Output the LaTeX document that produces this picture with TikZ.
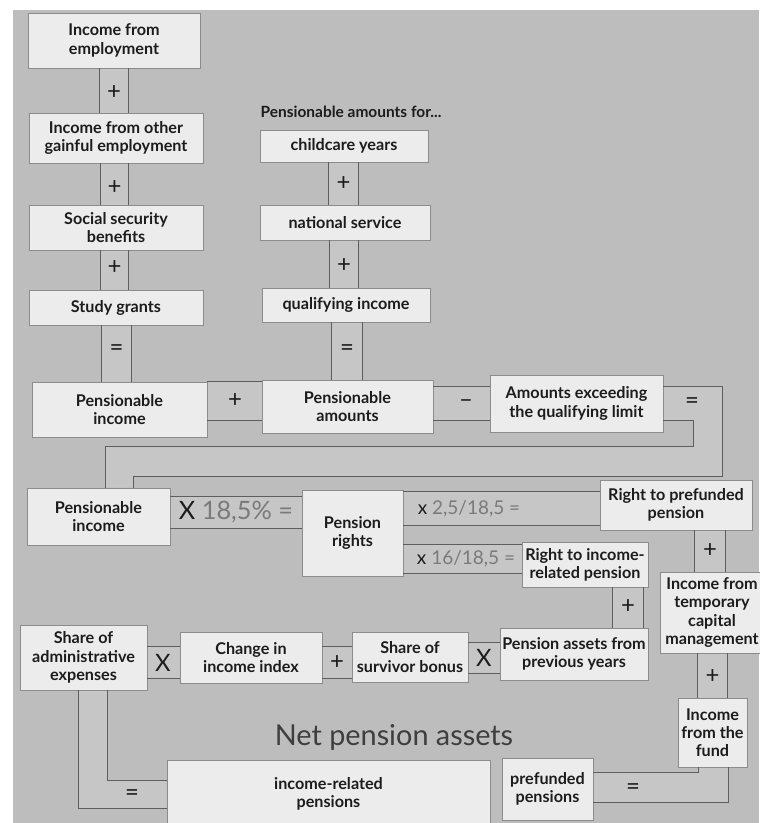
\documentclass[tikz,border=0pt]{standalone}
\usepackage{fontspec}
\setmainfont{Lato}
\usetikzlibrary{calc, backgrounds}
\definecolor{PaperGrey}{HTML}{BDBDBD}
\definecolor{BoxFill}  {HTML}{ECECEC}
\definecolor{BoxLine}  {HTML}{8C8C8C}
\definecolor{BandFill} {HTML}{C6C6C6}
\definecolor{LineGrey} {HTML}{5E5E5E}
\definecolor{InkDark}  {HTML}{1C1C1C}
\definecolor{InkGrey}  {HTML}{7A7A7A}

% band between two stacked boxes, width taken from the operator node
\newcommand{\vband}[3]{%
  \begin{scope}[on background layer]
    \fill[BandFill] (#1.south -| #3.west) rectangle (#2.north -| #3.east);
  \end{scope}
  \draw[bandline] (#1.south -| #3.west) -- (#2.north -| #3.west)
                  (#1.south -| #3.east) -- (#2.north -| #3.east);
}
% band between two boxes side by side, height taken from the operator node
\newcommand{\hband}[3]{%
  \begin{scope}[on background layer]
    \fill[BandFill] (#1.east |- #3.north) rectangle (#2.west |- #3.south);
  \end{scope}
  \draw[bandline] (#1.east |- #3.north) -- (#2.west |- #3.north)
                  (#1.east |- #3.south) -- (#2.west |- #3.south);
}

\begin{document}
\begin{tikzpicture}[
  x=0.025cm, y=-0.025cm,
  box/.style={draw=BoxLine, fill=BoxFill, line width=0.5pt, align=center, inner sep=1pt,
              text=InkDark, font=\fontsize{11.5}{13}\selectfont\bfseries},
  boxsize/.style 2 args={minimum width=#1*0.025cm, minimum height=#2*0.025cm},
  opsym/.style={inner sep=0pt, text=InkDark, font=\fontsize{17}{17}\selectfont},
  factor/.style={inner sep=0pt, text=InkGrey, font=\fontsize{13.5}{14}\selectfont},
  bandline/.style={draw=LineGrey, line width=0.6pt}
]
  \useasboundingbox (0,0) rectangle (759,823);
  \begin{scope}[on background layer]
    \fill[PaperGrey] (13,10) rectangle (759,823);
  \end{scope}

  % first column: the sources of income
  \node[box, boxsize={172}{55}] (emp)  at (114,40.5)  {Income from\\employment};
  \node[box, boxsize={174}{50}] (oth)  at (116,138)   {Income from other\\gainful employment};
  \node[box, boxsize={174}{45}] (ssec) at (116,227.5) {Social security\\benefits};
  \node[box, boxsize={174}{35}] (sg)   at (116,307.5) {Study grants};

  % second column: pensionable amounts
  \node[font=\fontsize{11}{12}\selectfont\bfseries, text=InkDark] (forlbl) at (351,112)
      {Pensionable amounts for...};
  \node[box, boxsize={168}{32}] (cc) at (344,146)   {childcare years};
  \node[box, boxsize={170}{35}] (ns) at (345,222.5) {national service};
  \node[box, boxsize={168}{34}] (qi) at (346,305)   {qualifying income};

  % first sum
  \node[box, boxsize={175}{55}] (pi1) at (119.5,409.5) {Pensionable\\income};
  \node[box, boxsize={171}{53}] (pam) at (347.5,406.5) {Pensionable\\amounts};
  \node[box, boxsize={173}{57}] (amt) at (576.5,403.5) {Amounts exceeding\\the qualifying limit};

  % pension rights and their split
  \node[box, boxsize={143}{57}]  (pi2)  at (98.5,516.5) {Pensionable\\income};
  \node[box, boxsize={101}{86}]  (pr)   at (352.5,533)  {Pension\\rights};
  \node[box, boxsize={152}{50}]  (rp)   at (676,505)    {Right to prefunded\\pension};
  \node[box, boxsize={126}{45}]  (rip)  at (585,564.5)  {Right to income-\\related pension};
  \node[box, boxsize={104}{81}]  (temp) at (712,612.5)  {Income from\\temporary\\capital\\management};

  % third row
  \node[box, boxsize={127}{65}] (adm)  at (83.5,657.5) {Share of\\administrative\\expenses};
  \node[box, boxsize={142}{51}] (cii)  at (251,657.5)  {Change in\\income index};
  \node[box, boxsize={116}{50}] (ssb)  at (410,657)    {Share of\\survivor bonus};
  \node[box, boxsize={148}{52}] (pa)   at (574,654)    {Pension assets from\\previous years};
  \node[box, boxsize={69}{69}]  (fund) at (712.5,732.5) {Income\\from the\\fund};

  % the result
  \node[font=\fontsize{20.5}{21}\selectfont, text=InkDark!85] (net) at (394,737) {Net pension assets};
  \node[box, boxsize={323}{68}] (inc) at (328.5,794) {income-related\\pensions};
  \node[box, boxsize={91}{62}]  (pre) at (547.5,789) {prefunded\\pensions};

  % operators in the stacked columns
  \node[opsym, boxsize={28}{0}] (p1) at (114,93)    {+};
  \node[opsym, boxsize={27}{0}] (p2) at (114.5,188) {+};
  \node[opsym, boxsize={27}{0}] (p3) at (114.5,268) {+};
  \node[opsym, boxsize={29}{0}] (e1) at (116.5,350) {=};
  \node[opsym, boxsize={29}{0}] (p4) at (343.5,184) {+};
  \node[opsym, boxsize={28}{0}] (p5) at (344,266)   {+};
  \node[opsym, boxsize={30}{0}] (e2) at (347,350)   {=};
  \vband{emp}{oth}{p1}
  \vband{oth}{ssec}{p2}
  \vband{ssec}{sg}{p3}
  \vband{sg}{pi1}{e1}
  \vband{cc}{ns}{p4}
  \vband{ns}{qi}{p5}
  \vband{qi}{pam}{e2}

  % operators in the first sum
  \node[opsym, boxsize={0}{38}] (p6) at (235,401)   {+};
  \node[opsym, boxsize={0}{33}] (m1) at (466,403.5) {\textendash};
  \node[opsym, boxsize={0}{33}] (e3) at (692,403.5) {=};
  \hband{pi1}{pam}{p6}
  \hband{pam}{amt}{m1}

  % result of the first sum carried down to the second row
  \coordinate (uin)  at (693,446);
  \coordinate (uout) at (722,476);
  \coordinate (lin)  at (105,446);
  \coordinate (lout) at (133,476);
  \begin{scope}[on background layer]
    \fill[BandFill] (amt.east |- e3.north) -- (uout |- e3.north) -- (uout) -- (lout)
      -- (lout |- pi2.north) -- (lin |- pi2.north) -- (lin) -- (uin)
      -- (uin |- e3.south) -- (amt.east |- e3.south) -- cycle;
  \end{scope}
  \draw[bandline] (amt.east |- e3.north) -- (uout |- e3.north) -- (uout) -- (lout) -- (lout |- pi2.north);
  \draw[bandline] (amt.east |- e3.south) -- (uin |- e3.south) -- (uin) -- (lin) -- (lin |- pi2.north);

  % factors of the second row
  \node[factor, boxsize={0}{31}, font=\fontsize{18}{18}\selectfont] (t1) at (236,512.5)
      {\textcolor{InkDark}{X} 18,5\% =};
  \node[factor, boxsize={0}{33}] (t2) at (469,508.5) {\textcolor{InkDark}{x} 2,5/18,5 =};
  \node[factor, boxsize={0}{28}] (t3) at (466,559)   {\textcolor{InkDark}{x} 16/18,5 =};
  \hband{pi2}{pr}{t1}
  \hband{pr}{rp}{t2}
  \hband{pr}{rip}{t3}

  \node[opsym, boxsize={30}{0}] (p7)  at (710,551)   {+};
  \node[opsym, boxsize={30}{0}] (p8)  at (628,607)   {+};
  \node[opsym, boxsize={29}{0}] (p10) at (712.5,677) {+};
  \vband{rp}{temp}{p7}
  \vband{rip}{pa}{p8}
  \vband{temp}{fund}{p10}

  % operators of the third row
  \node[opsym, boxsize={0}{31}] (x1) at (163,662.5) {X};
  \node[opsym, boxsize={0}{31}] (p9) at (337,662.5) {+};
  \node[opsym, boxsize={0}{30}] (x2) at (484,658)   {X};
  \hband{adm}{cii}{x1}
  \hband{cii}{ssb}{p9}
  \hband{ssb}{pa}{x2}

  % the two results at the bottom
  \node[opsym] (e4) at (132,795) {=};
  \coordinate (lbo) at (78,808);
  \coordinate (lbi) at (107,780);
  \begin{scope}[on background layer]
    \fill[BandFill] (lbo |- adm.south) -- (lbo) -- (lbo -| inc.west)
      -- (lbi -| inc.west) -- (lbi) -- (lbi |- adm.south) -- cycle;
  \end{scope}
  \draw[bandline] (lbo |- adm.south) -- (lbo) -- (lbo -| inc.west);
  \draw[bandline] (lbi |- adm.south) -- (lbi) -- (lbi -| inc.west);

  \node[opsym] (e5) at (633,789) {=};
  \coordinate (rbi) at (698,772);
  \coordinate (rbo) at (728,802);
  \begin{scope}[on background layer]
    \fill[BandFill] (rbo |- fund.south) -- (rbo) -- (rbo -| pre.east)
      -- (rbi -| pre.east) -- (rbi) -- (rbi |- fund.south) -- cycle;
  \end{scope}
  \draw[bandline] (rbo |- fund.south) -- (rbo) -- (rbo -| pre.east);
  \draw[bandline] (rbi |- fund.south) -- (rbi) -- (rbi -| pre.east);
\end{tikzpicture}
\end{document}
